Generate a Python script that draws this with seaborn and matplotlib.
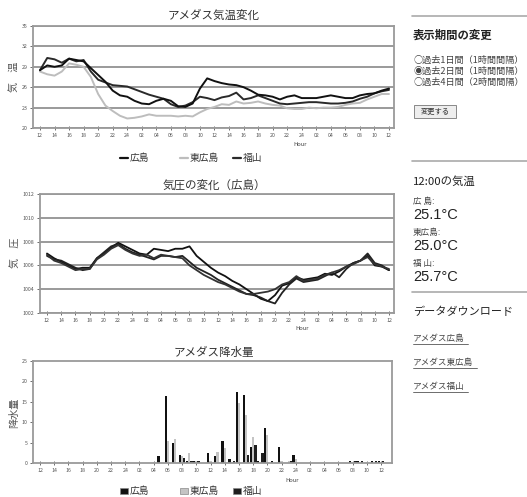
import numpy as np
import pandas as pd
import matplotlib
matplotlib.use("Agg")
import matplotlib.pyplot as plt
import seaborn as sns
from matplotlib.lines import Line2D
from matplotlib.patches import Rectangle

W, H = 527, 497
sns.set_theme(style="white")
plt.rcParams['font.family'] = ['Noto Sans CJK JP', 'DejaVu Sans']

# ---------------- data ----------------
hours = list(range(49))
tick_labels = ["12", "14", "16", "18", "20", "22", "24", "02", "04", "06", "08", "10",
               "12", "14", "16", "18", "20", "22", "24", "02", "04", "06", "08", "10", "12"]
stations = ["広島", "東広島", "福山"]

temp_hiroshima = [28.5, 29.2, 29.0, 29.2, 30.2, 30.0, 29.8, 28.8, 27.8, 26.8, 25.5, 24.8, 24.6,
                  24.0, 23.6, 23.5, 24.0, 24.3, 24.0, 23.2, 23.1, 23.6, 25.8, 27.3, 26.9, 26.6,
                  26.4, 26.3, 26.0, 25.5, 24.9, 24.8, 24.6, 24.2, 24.6, 24.8, 24.4, 24.4, 24.4,
                  24.6, 24.8, 24.6, 24.4, 24.4, 24.8, 25.0, 25.1, 25.5, 25.8]
temp_higashi = [28.3, 27.9, 27.7, 28.3, 29.5, 29.3, 29.0, 27.5, 25.0, 23.3, 22.5, 21.8, 21.4,
                21.5, 21.7, 22.0, 21.8, 21.8, 21.8, 21.7, 21.8, 21.7, 22.3, 22.8, 23.1, 23.5,
                23.4, 23.9, 23.6, 23.7, 23.9, 23.6, 23.4, 23.3, 22.9, 22.8, 22.8, 23.0, 22.9,
                23.0, 23.0, 23.1, 23.4, 23.6, 23.7, 24.2, 24.6, 25.0, 25.0]
temp_fukuyama = [28.5, 30.3, 30.1, 29.6, 30.2, 29.8, 30.0, 28.3, 27.1, 26.7, 26.3, 26.2, 26.1,
                 25.7, 25.3, 24.9, 24.6, 24.3, 23.5, 23.1, 23.3, 23.8, 24.6, 24.4, 24.1, 24.5,
                 24.7, 25.2, 24.2, 24.4, 24.8, 24.4, 24.0, 23.6, 23.5, 23.6, 23.7, 23.8, 23.8,
                 23.7, 23.6, 23.6, 23.7, 23.9, 24.3, 24.6, 25.1, 25.4, 25.6]

pres_a = [1007.0, 1006.6, 1006.3, 1006.0, 1005.7, 1005.8, 1005.8, 1006.6, 1007.0, 1007.5,
          1007.9, 1007.6, 1007.3, 1007.0, 1006.9, 1007.4, 1007.3, 1007.2, 1007.4, 1007.4,
          1007.6, 1006.8, 1006.3, 1005.8, 1005.4, 1005.1, 1004.7, 1004.4, 1004.0, 1003.6,
          1003.2, 1003.0, 1003.5, 1004.3, 1004.5, 1005.0, 1004.8, 1004.9, 1005.0, 1005.3,
          1005.2, 1005.5, 1005.9, 1006.2, 1006.4, 1006.8, 1006.0, 1005.9, 1005.6]
pres_b = [1006.8, 1006.5, 1006.4, 1006.1, 1005.8, 1005.6, 1005.7, 1006.6, 1007.1, 1007.6,
          1007.8, 1007.4, 1007.1, 1006.9, 1006.7, 1006.5, 1006.8, 1006.8, 1006.7, 1006.8,
          1006.3, 1005.8, 1005.5, 1005.2, 1004.8, 1004.5, 1004.2, 1003.9, 1003.6, 1003.5,
          1003.3, 1003.0, 1002.8, 1003.7, 1004.4, 1004.9, 1004.6, 1004.7, 1004.8, 1005.1,
          1005.4, 1005.0, 1005.7, 1006.2, 1006.4, 1007.0, 1006.2, 1006.0, 1005.6]
pres_c = [1006.9, 1006.4, 1006.2, 1005.9, 1005.6, 1005.7, 1005.7, 1006.5, 1006.9, 1007.4,
          1007.7, 1007.3, 1007.0, 1006.8, 1006.9, 1006.6, 1006.9, 1006.8, 1006.7, 1006.6,
          1006.0, 1005.6, 1005.2, 1004.9, 1004.6, 1004.4, 1004.1, 1003.8, 1003.6, 1003.6,
          1003.7, 1003.8, 1004.0, 1004.4, 1004.6, 1005.1, 1004.7, 1004.8, 1004.9, 1005.2,
          1005.4, 1005.6, 1005.9, 1006.1, 1006.4, 1006.7, 1006.1, 1005.9, 1005.7]

rain_hiroshima = [0, 0, 0, 0, 0, 0, 0, 0, 0, 0, 0, 0, 0, 0, 0, 0, 0, 1.6, 16.5, 5.0, 2.0, 0.4,
                  0.4, 0, 2.4, 1.6, 5.5, 1.0, 17.5, 16.7, 3.9, 0.4, 8.5, 0.4, 3.9, 0, 2.0, 0, 0,
                  0, 0, 0, 0, 0, 0.5, 0.5, 0, 0.5, 0.5]
rain_higashi = [0, 0, 0, 0, 0, 0, 0, 0, 0, 0, 0, 0, 0, 0, 0, 0, 0.3, 0, 5.3, 6.0, 1.8, 2.4,
                0.5, 0, 0.5, 2.8, 3.7, 0.3, 14.8, 11.8, 6.4, 0, 6.9, 0, 0.5, 0.5, 1.0, 0, 0.3,
                0, 0.3, 0, 0.3, 0, 0.3, 0, 0.3, 0, 0]
rain_fukuyama = [0, 0, 0, 0, 0, 0, 0, 0, 0, 0, 0, 0, 0, 0, 0, 0, 0, 0, 0, 0, 1.2, 0.4, 0.4,
                 0, 0, 0, 0, 0.4, 0, 2.0, 4.5, 2.4, 0, 0, 0, 0.5, 0, 0, 0, 0, 0, 0, 0, 0, 0.5,
                 0.5, 0, 0.5, 0.5]

# ---------------- helpers ----------------
fig = plt.figure(figsize=(W / 100, H / 100), dpi=100)


def ax_px(l, t, r, b):
    return fig.add_axes([l / W, 1 - b / H, (r - l) / W, (b - t) / H])


def ftext(x, y, s, **kw):
    kw.setdefault("va", "center")
    kw.setdefault("ha", "left")
    return fig.text(x / W, 1 - y / H, s, **kw)


def fline(x0, x1, y, color="#aaaaaa", lw=1.2):
    fig.add_artist(Line2D([x0 / W, x1 / W], [1 - y / H, 1 - y / H], color=color, lw=lw,
                          transform=fig.transFigure))


line_colors = {"広島": "#111111", "東広島": "#bdbdbd", "福山": "#2a2a2a"}
bar_colors = {"広島": "#111111", "東広島": "#c4c4c4", "福山": "#1e1e1e"}


def style_axes(ax, xl, xr):
    ax.set_xlim(xl, xr)
    ax.set_xticks(list(range(0, 49, 2)))
    ax.set_xticklabels(tick_labels)
    for s in ax.spines.values():
        s.set_color("#9a9a9a")
        s.set_linewidth(1.3)
    ax.tick_params(axis="x", direction="inout", length=3, width=0.6, colors="#555555",
                   labelsize=3.8, pad=2, bottom=True)
    ax.tick_params(axis="y", direction="out", length=2.5, width=0.6, colors="#555555",
                   labelsize=3.8, pad=1.5, left=True)
    ax.set_xlabel("")
    ax.set_ylabel("")


# ---------------- temperature ----------------
df_t = pd.DataFrame({"hour": hours * 3,
                     "value": temp_hiroshima + temp_higashi + temp_fukuyama,
                     "station": [s for s in stations for _ in hours]})
ax1 = ax_px(33, 26, 394, 128)
sns.lineplot(data=df_t, x="hour", y="value", hue="station", hue_order=["東広島", "福山", "広島"],
             palette=line_colors, linewidth=1.4, legend=False, ax=ax1)
ax1.set_ylim(20, 35)
ax1.set_yticks([20, 23, 26, 29, 32, 35])
ax1.grid(axis="y", color="#9a9a9a", linewidth=1.4)
ax1.grid(axis="x", visible=False)
style_axes(ax1, -0.96, 48.69)
ftext(214, 15, "アメダス気温変化", ha="center", fontsize=8.3, color="#333333")
ftext(14, 77, "気　温", rotation=90, ha="center", fontsize=7.3, color="#555555")
ftext(300, 145, "Hour", ha="center", fontsize=4.2, color="#444444")
# legend
for x0, name in [(120, "広島"), (180, "東広島"), (233, "福山")]:
    fline(x0, x0 + 8, 158, color=line_colors[name], lw=1.6)
    ftext(x0 + 10, 158, name, fontsize=7, color="#333333")

# ---------------- pressure ----------------
df_p = pd.DataFrame({"hour": hours * 3,
                     "value": pres_a + pres_b + pres_c,
                     "station": [s for s in ["a", "b", "c"] for _ in hours]})
ax2 = ax_px(40, 194, 394, 313)
sns.lineplot(data=df_p, x="hour", y="value", hue="station",
             palette={"a": "#111111", "b": "#222222", "c": "#333333"}, linewidth=1.3,
             legend=False, ax=ax2)
ax2.set_ylim(1002, 1012)
ax2.set_yticks([1002, 1004, 1006, 1008, 1010, 1012])
ax2.grid(axis="y", color="#9a9a9a", linewidth=1.4)
ax2.grid(axis="x", visible=False)
style_axes(ax2, -0.98, 48.7)
ftext(214, 185, "気圧の変化（広島）", ha="center", fontsize=8.3, color="#333333")
ftext(15, 253, "気　圧", rotation=90, ha="center", fontsize=7.3, color="#555555")
ftext(302, 328, "Hour", ha="center", fontsize=4.2, color="#444444")

# ---------------- precipitation ----------------
df_r = pd.DataFrame({"hour": hours * 3,
                     "value": rain_hiroshima + rain_higashi + rain_fukuyama,
                     "station": [s for s in stations for _ in hours]})
ax3 = ax_px(33, 361, 392, 463)
sns.barplot(data=df_r, x="hour", y="value", hue="station", hue_order=stations,
            palette=bar_colors, native_scale=True, width=0.95, errorbar=None,
            linewidth=0, legend=False, ax=ax3)
ax3.set_ylim(0, 25)
ax3.set_yticks([0, 5, 10, 15, 20, 25])
ax3.set_yticklabels(["0", "5", "10", "15", "20", "25"])
ax3.grid(False)
style_axes(ax3, -0.99, 49.55)
ftext(214, 352, "アメダス降水量", ha="center", fontsize=8.3, color="#333333")
ftext(14, 413, "降水量", rotation=90, ha="center", fontsize=7.3, color="#555555")
ftext(292, 480, "Hour", ha="center", fontsize=4.2, color="#444444")
for x0, name in [(120, "広島"), (180, "東広島"), (233, "福山")]:
    fig.add_artist(Rectangle((x0 / W, 1 - 494 / H), 8 / W, 6 / H, transform=fig.transFigure,
                             facecolor=bar_colors[name], edgecolor="#888888", lw=0.5))
    ftext(x0 + 10, 491, name, fontsize=7, color="#333333")

# ---------------- sidebar ----------------
fline(412, 527, 16)
ftext(413, 35, "表示期間の変更", fontsize=8.2, fontweight="bold", color="#222222")
ftext(413, 60, "○過去1日間（1時間間隔）", fontsize=6.6, color="#444444")
ftext(413, 71, "◉過去2日間（1時間間隔）", fontsize=6.6, color="#444444")
ftext(413, 82, "○過去4日間（2時間間隔）", fontsize=6.6, color="#444444")
fig.add_artist(Rectangle((414 / W, 1 - 118 / H), 42 / W, 13 / H, transform=fig.transFigure,
                         facecolor="#eeeeee", edgecolor="#888888", lw=0.7))
ftext(435, 111.5, "変更する", ha="center", fontsize=5.2, color="#333333")
fline(412, 527, 161)
ftext(413, 181, "12:00の気温", fontsize=8.2, color="#222222")
ftext(413, 201, "広 島:", fontsize=6.2, color="#444444")
ftext(413, 215, "25.1°C", fontsize=10.5, color="#222222", family=["Liberation Sans", "DejaVu Sans"])
ftext(413, 232, "東広島:", fontsize=6.2, color="#444444")
ftext(413, 246, "25.0°C", fontsize=10.5, color="#222222", family=["Liberation Sans", "DejaVu Sans"])
ftext(413, 263, "福 山:", fontsize=6.2, color="#444444")
ftext(413, 277, "25.7°C", fontsize=10.5, color="#222222", family=["Liberation Sans", "DejaVu Sans"])
fline(412, 527, 292)
ftext(413, 312, "データダウンロード", fontsize=8, color="#222222")
for y, s, w in [(338, "アメダス広島", 55), (362, "アメダス東広島", 64), (386, "アメダス福山", 55)]:
    ftext(413, y, s, fontsize=6.2, color="#444444")
    fline(413, 413 + w, y + 6, color="#555555", lw=0.6)

fig.savefig("out.png", dpi=100)
